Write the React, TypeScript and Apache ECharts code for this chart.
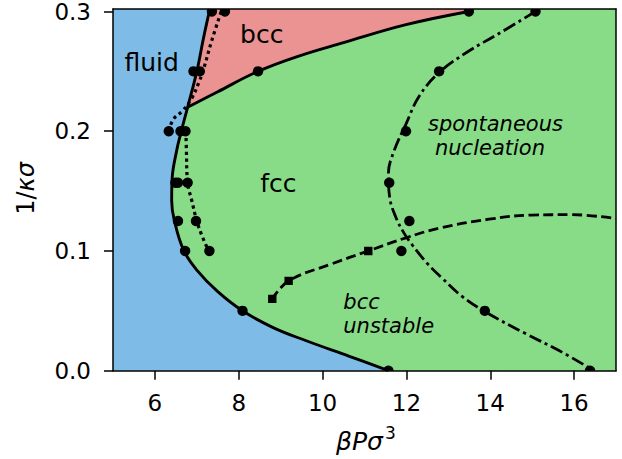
import React, { useEffect, useRef } from "react";
import * as echarts from "echarts";

// ---------- data ----------
const X_TICKS = [6, 8, 10, 12, 14, 16];
const Y_TICKS = [0, 0.1, 0.2, 0.3];
const X_MIN = 5;
const X_MAX = 17;
const Y_MIN = 0;
const Y_MAX = 0.302;

// fluid / bcc boundary (top edge -> triple point)
const fluidBccBoundary: number[][] = [
  [7.31, 0.302], [7.16, 0.278], [7.0, 0.25], [6.78, 0.22],
];
// fluid / fcc boundary (triple point -> x axis)
const fluidFccBoundary: number[][] = [
  [6.78, 0.22], [6.63, 0.2], [6.52, 0.184], [6.41, 0.16], [6.4, 0.142],
  [6.46, 0.126], [6.68, 0.101], [7.0, 0.084], [7.5, 0.066], [8.09, 0.05],
  [8.82, 0.036], [9.61, 0.025], [10.64, 0.012], [11.57, 0.0],
];
// bcc / fcc boundary (triple point -> top)
const bccFccBoundary: number[][] = [
  [6.78, 0.22], [7.5, 0.233], [8.46, 0.25], [9.45, 0.263], [10.5, 0.274],
  [11.99, 0.289], [13.49, 0.3],
];
// dotted metastability lines
const dottedUpper: number[][] = [
  [6.33, 0.2], [6.44, 0.21], [6.66, 0.217], [6.87, 0.227], [7.04, 0.24],
  [7.17, 0.253], [7.35, 0.275], [7.6, 0.302],
];
const dottedLower: number[][] = [
  [6.74, 0.2], [6.75, 0.185], [6.78, 0.157], [6.88, 0.142], [7.0, 0.125],
  [7.12, 0.113], [7.28, 0.1],
];
// dashed "bcc unstable" line
const dashedLine: number[][] = [
  [8.79, 0.0595], [9.19, 0.075], [10.2, 0.089], [11.09, 0.1], [11.99, 0.111],
  [12.78, 0.119], [13.97, 0.1265], [15.0, 0.13], [15.95, 0.1303], [17.0, 0.127],
];
// dash-dot "spontaneous nucleation" line
const dashDotLine: number[][] = [
  [15.08, 0.3], [14.13, 0.28], [13.49, 0.267], [12.78, 0.249], [12.3, 0.229],
  [11.99, 0.206], [11.71, 0.184], [11.57, 0.1645], [11.6, 0.145], [11.75, 0.128],
  [11.95, 0.1145], [12.14, 0.105], [12.5, 0.0895], [12.86, 0.077], [13.33, 0.062],
  [13.89, 0.049], [14.84, 0.031], [15.63, 0.017], [16.38, 0.002],
];
// circle markers
const circlePoints: number[][] = [
  [7.36, 0.3], [7.67, 0.3], [6.92, 0.25], [7.07, 0.25], [8.46, 0.25],
  [6.33, 0.2], [6.61, 0.2], [6.73, 0.2], [6.49, 0.157], [6.55, 0.157], [6.78, 0.157],
  [6.55, 0.125], [6.98, 0.125], [6.72, 0.1], [7.3, 0.1], [8.09, 0.05], [11.57, 0.0],
  [13.49, 0.3], [15.08, 0.3], [12.78, 0.25], [11.99, 0.2], [11.59, 0.157],
  [12.07, 0.125], [11.88, 0.1], [13.87, 0.05], [16.38, 0.0],
];
// square markers
const squarePoints: number[][] = [
  [8.8, 0.06], [9.19, 0.075], [11.09, 0.1],
];

// ---------- styles ----------
const BLUE = "#7EBBE6";
const GREEN = "#88DC88";
const RED = "#EB9292";
const FONT = "DejaVu Sans";

export default function App() {
  const ref = useRef<HTMLDivElement>(null);

  useEffect(() => {
    if (!ref.current) return;
    const chart = echarts.init(ref.current, null, { renderer: "svg" });

    const fluidBoundary = [...fluidBccBoundary, ...fluidFccBoundary.slice(1)];
    const plotRect = [[X_MIN, Y_MIN], [X_MAX, Y_MIN], [X_MAX, Y_MAX], [X_MIN, Y_MAX]];
    const solidRegion = [...fluidBoundary, [X_MAX, Y_MIN], [X_MAX, Y_MAX]];
    const last = bccFccBoundary[bccFccBoundary.length - 1];
    const bccRegion = [...fluidBccBoundary, ...bccFccBoundary.slice(1), [last[0], Y_MAX]];

    const axisLineStyle = { color: "#000", width: 1.5 };
    const labelStyle = { fontSize: 23, color: "#000", fontFamily: FONT };

    const lineSeries = (data: number[][], type: any, width: number, extra: any = {}) => ({
      type: "line",
      data,
      smooth: 0.4,
      symbol: "none",
      z: 4,
      silent: true,
      lineStyle: { color: "#000", width, type, ...extra },
    });

    const option: any = {
      animation: false,
      grid: { left: 113, right: 6, top: 8.3, bottom: 88.3 },
      xAxis: [
        {
          type: "value", position: "bottom", min: X_MIN, max: X_MAX, z: 3,
          axisLine: { show: true, onZero: false, lineStyle: axisLineStyle },
          axisTick: { show: true, length: 9, customValues: X_TICKS, lineStyle: axisLineStyle },
          axisLabel: { show: true, customValues: X_TICKS, margin: 21, ...labelStyle, formatter: (v: number) => String(v) },
          splitLine: { show: false },
        },
        {
          type: "value", position: "top", min: X_MIN, max: X_MAX, z: 3,
          axisLine: { show: true, onZero: false, lineStyle: axisLineStyle },
          axisTick: { show: false }, axisLabel: { show: false }, splitLine: { show: false },
        },
      ],
      yAxis: [
        {
          type: "value", position: "left", min: Y_MIN, max: Y_MAX, z: 3,
          axisLine: { show: true, onZero: false, lineStyle: axisLineStyle },
          axisTick: { show: true, length: 9, customValues: Y_TICKS, lineStyle: axisLineStyle },
          axisLabel: { show: true, customValues: Y_TICKS, margin: 22, ...labelStyle, formatter: (v: number) => v.toFixed(1) },
          splitLine: { show: false },
        },
        {
          type: "value", position: "right", min: Y_MIN, max: Y_MAX, z: 3,
          axisLine: { show: true, onZero: false, lineStyle: axisLineStyle },
          axisTick: { show: false }, axisLabel: { show: false }, splitLine: { show: false },
        },
      ],
      series: [
        {
          type: "custom",
          z: 1,
          silent: true,
          data: [[X_MIN, Y_MIN]],
          renderItem: (_p: any, api: any) => {
            const pts = (arr: number[][]) => arr.map((p) => api.coord(p));
            return {
              type: "group",
              children: [
                { type: "polygon", shape: { points: pts(plotRect) }, style: { fill: BLUE } },
                { type: "polygon", shape: { points: pts(solidRegion) }, style: { fill: GREEN } },
                { type: "polygon", shape: { points: pts(bccRegion) }, style: { fill: RED } },
              ],
            };
          },
        },
        lineSeries(fluidBoundary, "solid", 2.9),
        lineSeries(bccFccBoundary, "solid", 2.9),
        lineSeries(dottedUpper, [3.2, 3.6], 3.2),
        lineSeries(dottedLower, [3.2, 3.6], 3.2),
        lineSeries(dashedLine, [10, 4.5], 2.8),
        lineSeries(dashDotLine, [13, 4, 3, 4], 2.8),
        {
          type: "custom",
          z: 5,
          clip: true,
          silent: true,
          data: circlePoints,
          renderItem: (_p: any, api: any) => {
            const c = api.coord([api.value(0), api.value(1)]);
            return { type: "circle", shape: { cx: c[0], cy: c[1], r: 5.2 }, style: { fill: "#000" } };
          },
        },
        {
          type: "custom",
          z: 5,
          clip: true,
          silent: true,
          data: squarePoints,
          renderItem: (_p: any, api: any) => {
            const c = api.coord([api.value(0), api.value(1)]);
            return { type: "rect", shape: { x: c[0] - 4.2, y: c[1] - 4.2, width: 8.4, height: 8.4 }, style: { fill: "#000" } };
          },
        },
      ],
      graphic: [
        { type: "text", x: 151.7, y: 62, z: 10, style: { text: "fluid", fontSize: 25, fontFamily: FONT, fill: "#000", align: "center", verticalAlign: "middle" } },
        { type: "text", x: 261.7, y: 34, z: 10, style: { text: "bcc", fontSize: 25, fontFamily: FONT, fill: "#000", align: "center", verticalAlign: "middle" } },
        { type: "text", x: 278.3, y: 183, z: 10, style: { text: "fcc", fontSize: 25, fontFamily: FONT, fill: "#000", align: "center", verticalAlign: "middle" } },
        { type: "text", x: 495.5, y: 124, z: 10, style: { text: "spontaneous", fontSize: 21, fontStyle: "italic", fontFamily: FONT, fill: "#000", align: "center", verticalAlign: "middle" } },
        { type: "text", x: 490, y: 148, z: 10, style: { text: "nucleation", fontSize: 21, fontStyle: "italic", fontFamily: FONT, fill: "#000", align: "center", verticalAlign: "middle" } },
        { type: "text", x: 343.3, y: 302, z: 10, style: { text: "bcc", fontSize: 21, fontStyle: "italic", fontFamily: FONT, fill: "#000", align: "left", verticalAlign: "middle" } },
        { type: "text", x: 343.3, y: 326, z: 10, style: { text: "unstable", fontSize: 21, fontStyle: "italic", fontFamily: FONT, fill: "#000", align: "left", verticalAlign: "middle" } },
        { type: "text", x: 336, y: 441.6, z: 10, style: { text: "βPσ", fontSize: 25, fontStyle: "italic", fontFamily: FONT, fill: "#000", align: "left", verticalAlign: "middle" } },
        { type: "text", x: 385, y: 433, z: 10, style: { text: "3", fontSize: 17, fontFamily: FONT, fill: "#000", align: "left", verticalAlign: "middle" } },
        {
          type: "text", x: 26, y: 188.5, rotation: Math.PI / 2, z: 10,
          style: {
            text: "{u|1/}{i|κσ}", fill: "#000", align: "center", verticalAlign: "middle",
            rich: {
              u: { fontSize: 24, fontFamily: FONT, fill: "#000" },
              i: { fontSize: 24, fontFamily: FONT, fontStyle: "italic", fill: "#000" },
            },
          },
        },
      ],
    };

    chart.setOption(option);
    return () => chart.dispose();
  }, []);

  return (
    <div
      ref={ref}
      style={{ position: "fixed", left: 0, top: 0, width: 622, height: 459, background: "#fff" }}
    />
  );
}
